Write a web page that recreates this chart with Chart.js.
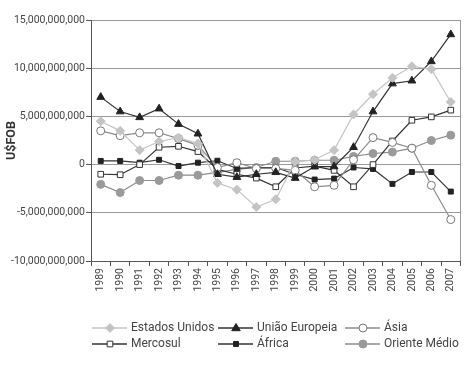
<!DOCTYPE html>
<html>
<head>
<meta charset="utf-8">
<script src="https://cdn.jsdelivr.net/npm/chart.js@4"></script>
<style>
body { margin: 0; background: #fff; }
#wrap { width: 466px; height: 366px; }
</style>
</head>
<body>
<div id="wrap"><canvas id="chart" width="466" height="366"></canvas></div>
<script>
// values in billions of US$ FOB
var years = ['1989', '1990', '1991', '1992', '1993', '1994', '1995', '1996', '1997', '1998',
  '1999', '2000', '2001', '2002', '2003', '2004', '2005', '2006', '2007'];
var estadosUnidos = [4.5, 3.5, 1.5, 2.4, 2.8, 2.2, -1.9, -2.6, -4.4, -3.6, 0.3, 0.5, 1.5, 5.2, 7.3, 9.0, 10.2, 9.9, 6.5];
var uniaoEuropeia = [7.0, 5.5, 4.9, 5.8, 4.2, 3.2, -1.0, -1.3, -1.0, -0.8, -1.4, -0.2, -0.2, 1.8, 5.5, 8.4, 8.7, 10.7, 13.5];
var asia = [3.5, 3.0, 3.3, 3.3, 2.7, 2.0, -0.3, 0.2, -0.4, -0.4, -0.6, -2.3, -2.15, 0.5, 2.8, 2.3, 1.7, -2.15, -5.7];
var mercosul = [-1.0, -1.05, 0.0, 1.8, 1.9, 1.35, -0.5, -1.0, -1.4, -2.3, -0.35, -0.15, -0.6, -2.3, 0.0, 2.45, 4.6, 4.95, 5.65];
var africa = [0.38, 0.38, 0.2, 0.5, -0.15, 0.2, 0.4, -0.4, -0.3, -0.3, -1.0, -1.55, -1.45, -0.3, -0.45, -2.0, -0.77, -0.77, -2.8];
var orienteMedio = [-2.05, -2.9, -1.65, -1.65, -1.1, -1.1, -0.8, -0.5, -0.3, 0.35, 0.35, 0.45, 0.45, 0.85, 1.15, 1.3, 1.7, 2.5, 3.05];
var yTicks = [-10, -5, 0, 5, 10, 15];

var fontName = 'Roboto';
var textColor = '#444444';

function toDollars(arr) {
  return arr.map(function (v) { return v * 1e9; });
}

function makeSet(label, data, line, style, fill, border, radius) {
  return {
    label: label,
    data: toDollars(data),
    borderColor: line,
    borderWidth: 1.2,
    pointStyle: style,
    pointRadius: radius,
    pointBackgroundColor: fill,
    pointBorderColor: border,
    pointBorderWidth: 1,
    tension: 0,
    fill: false
  };
}

var datasets = [
  makeSet('Estados Unidos', estadosUnidos, '#c4c4c4', 'rectRot', '#c4c4c4', '#c4c4c4', 4.5),
  makeSet('União Europeia', uniaoEuropeia, '#333333', 'triangle', '#222222', '#222222', 4.5),
  makeSet('Ásia', asia, '#8c8c8c', 'circle', '#ffffff', '#777777', 4),
  makeSet('Mercosul', mercosul, '#333333', 'rect', '#ffffff', '#333333', 4),
  makeSet('África', africa, '#333333', 'rect', '#222222', '#222222', 3.5),
  makeSet('Oriente Médio', orienteMedio, '#8c8c8c', 'circle', '#9a9a9a', '#9a9a9a', 4)
];

function drawMarker(ctx, ds, x, y) {
  var r = ds.pointRadius;
  ctx.save();
  ctx.fillStyle = ds.pointBackgroundColor;
  ctx.strokeStyle = ds.pointBorderColor;
  ctx.lineWidth = 1;
  ctx.beginPath();
  if (ds.pointStyle === 'circle') {
    ctx.arc(x, y, r, 0, Math.PI * 2);
  } else if (ds.pointStyle === 'rect') {
    var s = r * Math.SQRT1_2 * 2;
    ctx.rect(x - s / 2, y - s / 2, s, s);
  } else if (ds.pointStyle === 'rectRot') {
    ctx.moveTo(x, y - r);
    ctx.lineTo(x + r, y);
    ctx.lineTo(x, y + r);
    ctx.lineTo(x - r, y);
    ctx.closePath();
  } else if (ds.pointStyle === 'triangle') {
    ctx.moveTo(x, y - r);
    ctx.lineTo(x + r * 0.95, y + r * 0.6);
    ctx.lineTo(x - r * 0.95, y + r * 0.6);
    ctx.closePath();
  }
  ctx.fill();
  ctx.stroke();
  ctx.restore();
}

var legendCols = [92, 218, 345];
var legendRows = [328, 344];

var boxPlugin = {
  id: 'boxAndLegend',
  afterDraw: function (chart) {
    var ctx = chart.ctx;
    var a = chart.chartArea;
    ctx.save();
    ctx.strokeStyle = '#999999';
    ctx.lineWidth = 1;
    ctx.beginPath();
    ctx.moveTo(Math.round(a.right) - 0.5, a.top);
    ctx.lineTo(Math.round(a.right) - 0.5, a.bottom);
    ctx.stroke();

    ctx.font = '12px ' + fontName;
    ctx.textBaseline = 'middle';
    ctx.textAlign = 'left';
    chart.data.datasets.forEach(function (ds, i) {
      var x = legendCols[i % 3];
      var y = legendRows[Math.floor(i / 3)];
      ctx.strokeStyle = ds.borderColor;
      ctx.lineWidth = 1.4;
      ctx.beginPath();
      ctx.moveTo(x, y);
      ctx.lineTo(x + 35, y);
      ctx.stroke();
      drawMarker(ctx, ds, x + 18, y);
      ctx.fillStyle = textColor;
      ctx.fillText(ds.label, x + 39, y);
    });
    ctx.restore();
  }
};

var ctx = document.getElementById('chart').getContext('2d');
var chart = new Chart(ctx, {
  type: 'line',
  data: {
    labels: years,
    datasets: datasets
  },
  options: {
    responsive: false,
    animation: false,
    layout: { padding: { left: 0, right: 2, top: 20, bottom: 60 } },
    plugins: {
      legend: { display: false },
      tooltip: { enabled: false }
    },
    scales: {
      x: {
        type: 'category',
        offset: true,
        grid: {
          offset: true,
          drawOnChartArea: false,
          drawTicks: true,
          tickLength: 5,
          tickColor: '#555555'
        },
        border: { display: true, color: '#555555' },
        ticks: {
          maxRotation: 90,
          minRotation: 90,
          autoSkip: false,
          padding: 2,
          color: textColor,
          font: { family: fontName, size: 10.5 }
        },
        afterFit: function (scale) { scale.height = 45; }
      },
      y: {
        min: yTicks[0] * 1e9,
        max: yTicks[yTicks.length - 1] * 1e9,
        afterBuildTicks: function (scale) {
          scale.ticks = yTicks.map(function (v) { return { value: v * 1e9 }; });
        },
        grid: {
          color: '#9a9a9a',
          tickColor: '#555555',
          tickLength: 5,
          lineWidth: 1
        },
        border: { display: true, color: '#555555' },
        ticks: {
          padding: 1,
          color: textColor,
          font: { family: fontName, size: 10.5 },
          callback: function (v) { return Number(v).toLocaleString('en-US'); }
        },
        title: {
          display: true,
          text: 'U$FOB',
          color: '#333333',
          padding: { top: 4, bottom: 0 },
          font: { family: fontName, size: 12.5, weight: 'bold' }
        },
        afterFit: function (scale) { scale.width = 91; }
      }
    }
  },
  plugins: [boxPlugin]
});
</script>
</body>
</html>
